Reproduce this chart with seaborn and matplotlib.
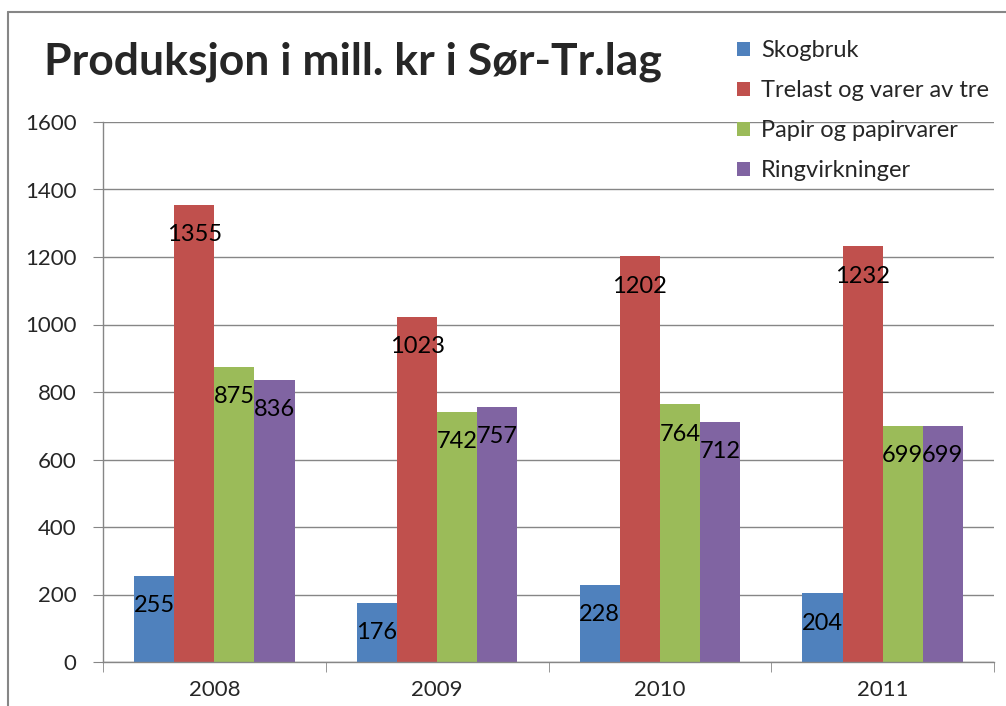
import pandas as pd
import matplotlib.pyplot as plt
import seaborn as sns
from matplotlib.patches import Rectangle
from matplotlib.lines import Line2D

# data
years = ["2008", "2009", "2010", "2011"]
series = ["Skogbruk", "Trelast og varer av tre", "Papir og papirvarer", "Ringvirkninger"]
skogbruk = [255, 176, 228, 204]
trelast = [1355, 1023, 1202, 1232]
papir = [875, 742, 764, 699]
ringvirkninger = [836, 757, 712, 699]
colors = ["#4F81BD", "#C0504D", "#9BBB59", "#8064A2"]

rows = []
for name, vals in zip(series, [skogbruk, trelast, papir, ringvirkninger]):
    for yr, v in zip(years, vals):
        rows.append({"year": yr, "series": name, "value": v})
df = pd.DataFrame(rows)

sns.set_style("white")
plt.rcParams["font.family"] = ["Lato", "DejaVu Sans"]

fig = plt.figure(figsize=(10.06, 7.06), dpi=100)
ax = fig.add_axes([103 / 1006, 44 / 706, 891 / 1006, 540 / 706])

sns.barplot(data=df, x="year", y="value", hue="series", order=years,
            hue_order=series, palette=colors, width=0.72, gap=0,
            saturation=1, linewidth=0, legend=False, ax=ax)

# data labels inside end of each bar
for cont, vals in zip(ax.containers, [skogbruk, trelast, papir, ringvirkninger]):
    for bar, v in zip(cont, vals):
        ax.annotate(str(v), (bar.get_x() + bar.get_width() / 2, bar.get_height()),
                    xytext=(0, -21.5), textcoords="offset points",
                    ha="center", va="center", fontsize=17, color="black")

grid_c = "#868686"
ax.set_ylim(0, 1600)
ax.set_yticks(range(0, 1601, 200))
ax.set_xlim(-0.5, 3.5)
ax.yaxis.grid(True, color=grid_c, linewidth=1)
ax.set_axisbelow(True)
for s in ["top", "right"]:
    ax.spines[s].set_visible(False)
for s in ["left", "bottom"]:
    ax.spines[s].set_color(grid_c)
    ax.spines[s].set_linewidth(1)

ax.tick_params(axis="y", length=7.2, color=grid_c, labelsize=16, pad=12, left=True)
ax.set_xticks([-0.5, 0.5, 1.5, 2.5, 3.5], minor=True)
ax.tick_params(axis="x", which="minor", length=7.2, color=grid_c, bottom=True)
ax.tick_params(axis="x", which="major", length=0, labelsize=16, pad=13)
ax.set_xlabel("")
ax.set_ylabel("")

fig.text(44 / 1006, 1 - 74 / 706, "Produksjon i mill. kr i Sør-Tr.lag",
         fontsize=32, fontweight="bold", ha="left", va="baseline")

handles = [Rectangle((0, 0), 1, 1, facecolor=c, edgecolor="none") for c in colors]
fig.legend(handles, series, loc="upper left",
           bbox_to_anchor=(728 / 1006, 1 - 31 / 706), frameon=False,
           fontsize=17, handlelength=0.55, handleheight=0.55,
           handletextpad=0.45, labelspacing=0.8, borderaxespad=0)

# chart area border (left and top edges visible)
fig.add_artist(Line2D([8 / 1006, 8 / 1006], [-0.1, 1 - 12 / 706],
                      transform=fig.transFigure, color="#868686", linewidth=1.5))
fig.add_artist(Line2D([8 / 1006, 1.1], [1 - 12 / 706, 1 - 12 / 706],
                      transform=fig.transFigure, color="#868686", linewidth=1.5))

fig.savefig("out.png", dpi=100)
